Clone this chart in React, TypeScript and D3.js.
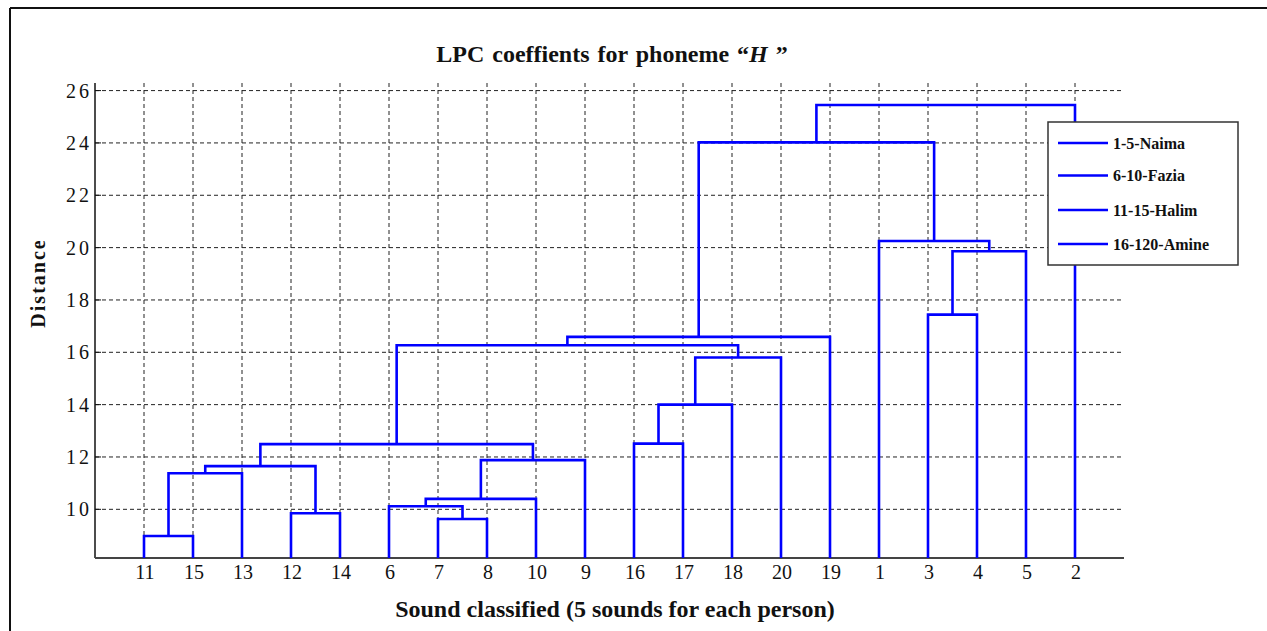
import React from "react";
import * as d3 from "d3";

// ---- data ----
const leafOrder = [11, 15, 13, 12, 14, 6, 7, 8, 10, 9, 16, 17, 18, 20, 19, 1, 3, 4, 5, 2];
// linkage: leaves are ids 1..20, link k (0-based) creates node id 21+k
const linkA = [11, 7, 12, 6, 24, 21, 26, 25, 27, 16, 30, 31, 29, 33, 3, 35, 1, 34, 38];
const linkB = [15, 8, 14, 22, 10, 13, 23, 9, 28, 17, 18, 20, 32, 19, 4, 5, 36, 37, 2];
const linkHeight = [8.98, 9.63, 9.85, 10.12, 10.4, 11.38, 11.65, 11.88, 12.49, 12.51, 14.0, 15.8, 16.27, 16.59, 17.44, 19.86, 20.25, 24.02, 25.45];
const yTicks = [10, 12, 14, 16, 18, 20, 22, 24, 26];
const legendLabels = ["1-5-Naima", "6-10-Fazia", "11-15-Halim", "16-120-Amine"];
const titleText = "LPC coeffients for phoneme \u201C";
const titleItalic = "H";
const titleEnd = " \u201D";
const xLabel = "Sound classified (5 sounds for each person)";
const yLabel = "Distance";

const W = 1267;
const H = 631;
const plot = { left: 95, right: 1124, top: 83, bottom: 558 };
const BLUE = "#0000ff";
const SERIF = "'Liberation Serif', 'Times New Roman', serif";

export default function App() {
  const x = d3.scaleLinear().domain([0, leafOrder.length + 1]).range([plot.left, plot.right]);
  const y = d3.scaleLinear().domain([8.14, 26.29]).range([plot.bottom, plot.top]);
  const yMin = y.domain()[0];

  const nodeX = new Map<number, number>();
  const nodeH = new Map<number, number>();
  leafOrder.forEach((id, i) => {
    nodeX.set(id, i + 1);
    nodeH.set(id, yMin);
  });
  const paths: string[] = [];
  linkA.forEach((a, k) => {
    const b = linkB[k];
    const h = linkHeight[k];
    const xa = nodeX.get(a)!;
    const xb = nodeX.get(b)!;
    const p = d3.path();
    p.moveTo(x(xa), y(nodeH.get(a)!));
    p.lineTo(x(xa), y(h));
    p.lineTo(x(xb), y(h));
    p.lineTo(x(xb), y(nodeH.get(b)!));
    paths.push(p.toString());
    const id = 21 + k;
    nodeX.set(id, (xa + xb) / 2);
    nodeH.set(id, h);
  });

  const legend = { x: 1048, y: 122, w: 190, h: 143 };
  const legendRowY = [143, 175.5, 210, 244];

  return (
    <svg
      width={W}
      height={H}
      style={{ position: "absolute", left: 0, top: 0, background: "#fff" }}
      fontFamily={SERIF}
    >
      <rect x={0} y={0} width={W} height={H} fill="#fff" />
      {/* outer frame */}
      <line x1={10} y1={8} x2={W + 2} y2={8} stroke="#111" strokeWidth={2} />
      <line x1={10} y1={8} x2={10} y2={H + 2} stroke="#111" strokeWidth={2} />

      {/* grid */}
      <g stroke="#222" strokeWidth={1} strokeDasharray="4,3">
        {yTicks.map((t) => (
          <line key={"h" + t} x1={plot.left} x2={plot.right} y1={y(t)} y2={y(t)} />
        ))}
        {leafOrder.map((_, i) => (
          <line key={"v" + i} x1={x(i + 1)} x2={x(i + 1)} y1={plot.top} y2={plot.bottom} />
        ))}
      </g>

      {/* axes */}
      <line x1={plot.left} x2={plot.left} y1={plot.top} y2={plot.bottom} stroke="#111" strokeWidth={1.5} />
      <line x1={plot.left} x2={plot.right} y1={plot.bottom} y2={plot.bottom} stroke="#444" strokeWidth={1.8} />
      <g stroke="#111" strokeWidth={1}>
        {yTicks.map((t) => (
          <line key={"yt" + t} x1={plot.left} x2={plot.left + 6} y1={y(t)} y2={y(t)} />
        ))}
        {leafOrder.map((_, i) => (
          <line key={"xt" + i} x1={x(i + 1)} x2={x(i + 1)} y1={plot.bottom} y2={plot.bottom - 6} />
        ))}
      </g>

      {/* tick labels */}
      <g fontSize={20} fill="#111">
        {yTicks.map((t) => (
          <text key={"yl" + t} x={92} y={y(t) + 7} textAnchor="end" letterSpacing={3}>
            {t}
          </text>
        ))}
        {leafOrder.map((id, i) => (
          <text key={"xl" + i} x={x(i + 1) + 1} y={579} textAnchor="middle">
            {id}
          </text>
        ))}
      </g>

      {/* dendrogram */}
      <g fill="none" stroke={BLUE} strokeWidth={2.6} strokeLinejoin="miter">
        {paths.map((d, i) => (
          <path key={i} d={d} />
        ))}
      </g>

      {/* title */}
      <text x={612} y={62} textAnchor="middle" fontSize={24} fontWeight="bold" fill="#111" wordSpacing={2}>
        {titleText}
        <tspan fontStyle="italic">{titleItalic}</tspan>
        {titleEnd}
      </text>

      {/* axis labels */}
      <text x={615} y={617} textAnchor="middle" fontSize={24} fontWeight="bold" fill="#111">
        {xLabel}
      </text>
      <text
        transform={`translate(45,283) rotate(-90)`}
        textAnchor="middle"
        fontSize={20}
        fontWeight="bold"
        letterSpacing={2}
        fill="#111"
      >
        {yLabel}
      </text>

      {/* legend */}
      <rect x={legend.x} y={legend.y} width={legend.w} height={legend.h} fill="#fff" stroke="#333" strokeWidth={1.5} />
      {legendLabels.map((lab, i) => (
        <g key={lab}>
          <line x1={1058} x2={1108} y1={legendRowY[i]} y2={legendRowY[i]} stroke={BLUE} strokeWidth={2.6} />
          <text x={1113} y={legendRowY[i] + 5.5} fontSize={16} fontWeight="bold" fill="#111">
            {lab}
          </text>
        </g>
      ))}
    </svg>
  );
}
